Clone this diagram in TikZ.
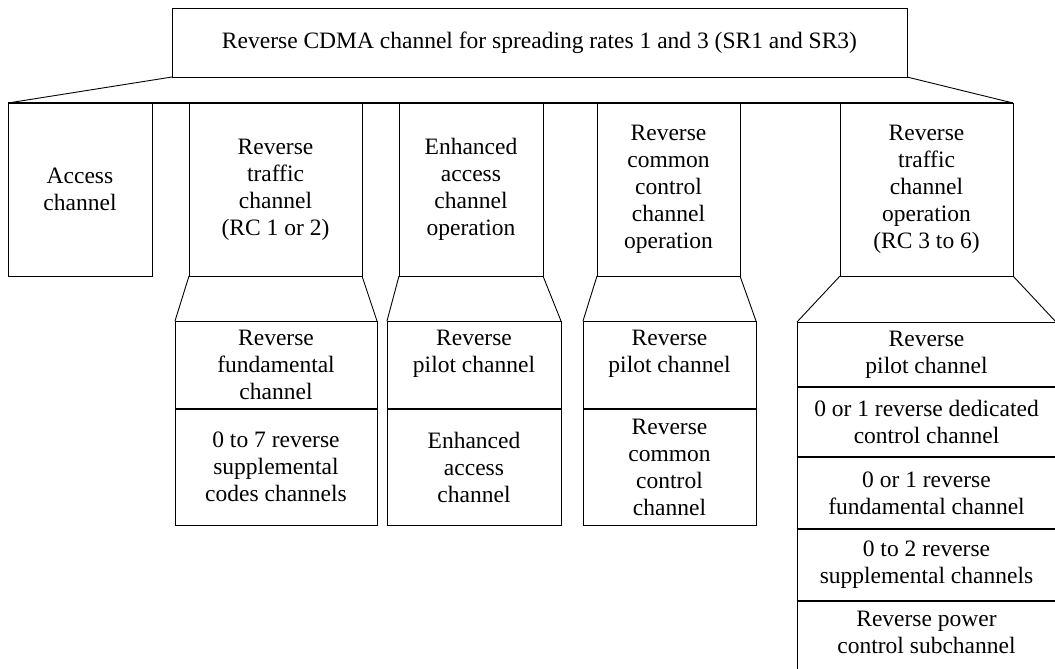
\documentclass[tikz,border=0pt]{standalone}
\usepackage{fontspec}
\setmainfont{Liberation Serif}
\tikzset{
  box/.style={draw, line width=0.9pt, inner sep=0pt, outer sep=0pt, align=center,
    anchor=north west, font=\fontsize{23.5}{27}\selectfont},
  txt/.style={inner sep=0pt, align=center, font=\fontsize{23.5}{27}\selectfont},
  bar/.style={line width=1.6pt},
  link/.style={line width=0.9pt},
}
\begin{document}
\begin{tikzpicture}[x=1pt,y=-1pt]
\useasboundingbox (0,0) rectangle (1055,669);
\clip (0,0) rectangle (1055,669);
% top
\node[box, minimum width=735, minimum height=69] (top) at (172,8)
  {Reverse CDMA channel for spreading rates 1 and 3 (SR1 and SR3)};
% upper row
\node[box, minimum width=144, minimum height=173] (acc) at (8,103) {Access\\channel};
\node[box, minimum width=173, minimum height=173] (trf) at (189,103) {Reverse\\traffic\\channel\\(RC 1 or 2)};
\node[box, minimum width=144, minimum height=173] (enh) at (399,103) {Enhanced\\access\\channel\\operation};
\node[box, minimum width=143, minimum height=173] (com) at (597,103) {Reverse\\common\\control\\channel\\operation};
\node[box, minimum width=173, minimum height=173] (rct) at (840,103) {Reverse\\traffic\\channel\\operation\\(RC 3 to 6)};
% lower boxes
\node[box, minimum width=202, minimum height=88] (fund) at (175,321) {Reverse\\fundamental\\channel};
\node[box, minimum width=202, minimum height=116] (supp) at (175,409) {0 to 7 reverse\\supplemental\\codes channels};
\node[box, minimum width=174, minimum height=88] (epil) at (387,321) {Reverse\\pilot channel\\~};
\node[box, minimum width=174, minimum height=116] (eac) at (387,409) {Enhanced\\access\\channel};
\node[box, minimum width=173, minimum height=88] (cpil) at (583,321) {Reverse\\pilot channel\\~};
\node[box, minimum width=173, minimum height=116] (ccc) at (583,409) {Reverse\\common\\control\\channel};
% RC 3 to 6 stack
\node[box, minimum width=259, minimum height=65] (r1) at (797,322) {Reverse\\pilot channel};
\node[box, minimum width=259, minimum height=70] (r2) at (797,387) {0 or 1 reverse dedicated\\control channel};
\node[box, minimum width=259, minimum height=72] (r3) at (797,457) {0 or 1 reverse\\fundamental channel};
\node[box, minimum width=259, minimum height=72] (r4) at (797,529) {0 to 2 reverse\\supplemental channels};
\node[box, minimum width=259, minimum height=120] (r5) at (797,601) {};
\node[txt] (r5t) at (926.5,632) {Reverse power\\control subchannel};
% bar and slants
\draw[bar] (acc.north west) -- (rct.north east);
\draw[link] (top.south west) -- (acc.north west);
\draw[link] (top.south east) -- (rct.north east);
% trapezoids
\draw[link] (trf.south west) -- (fund.north west);
\draw[link] (trf.south east) -- (fund.north east);
\draw[link] (enh.south west) -- (epil.north west);
\draw[link] (enh.south east) -- (epil.north east);
\draw[link] (com.south west) -- (cpil.north west);
\draw[link] (com.south east) -- (cpil.north east);
\draw[link] (rct.south west) -- (r1.north west);
\draw[link] (rct.south east) -- (r1.north east);
% dividers
\draw[bar] (fund.south west) -- (fund.south east);
\draw[bar] (epil.south west) -- (epil.south east);
\draw[bar] (cpil.south west) -- (cpil.south east);
\draw[bar] (r1.south west) -- (r1.south east);
\draw[bar] (r2.south west) -- (r2.south east);
\draw[bar] (r3.south west) -- (r3.south east);
\draw[bar] (r4.south west) -- (r4.south east);
\end{tikzpicture}
\end{document}
